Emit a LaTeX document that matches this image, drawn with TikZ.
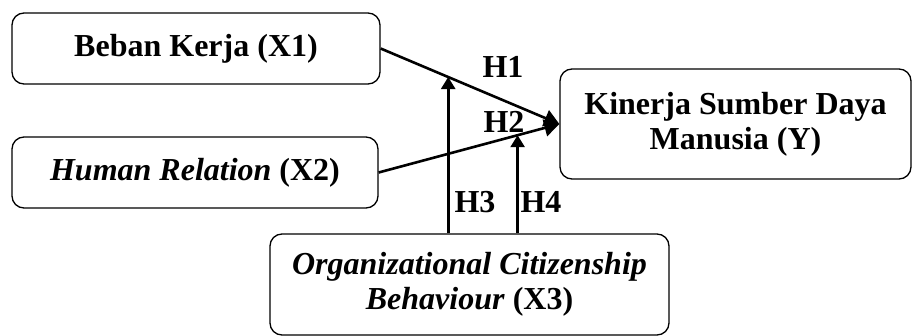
\documentclass[tikz,border=0pt]{standalone}
\usepackage{fontspec}
\setmainfont{Liberation Serif}
\usepackage{tikz}
\usetikzlibrary{arrows.meta, calc}

\begin{document}
\begin{tikzpicture}[x=1pt, y=-1pt,
    var/.style={draw, rounded corners=12pt, line width=1.3pt, align=center, inner sep=0pt,
        font=\fontsize{32}{35}\selectfont\bfseries},
    link/.style={line width=2.6pt, -{Triangle[length=15pt,width=17pt]}},
    moder/.style={line width=2.6pt, -{Triangle[length=12pt,width=14pt]}},
    hyp/.style={inner sep=0pt, font=\fontsize{32}{35}\selectfont\bfseries}]
    \useasboundingbox (0,0) rectangle (913,336);

    % Independent variables
    \node[var, minimum width=368pt, minimum height=71pt] (x1) at (196,48.5) {Beban Kerja (X1)};
    \node[var, minimum width=366pt, minimum height=71pt] (x2) at (195,172.5) {\textit{Human Relation} (X2)};

    % Dependent variable
    \node[var, minimum width=351pt, minimum height=110pt] (y) at (735.5,124) {Kinerja Sumber Daya\\Manusia (Y)};

    % Moderator
    \node[var, minimum width=399pt, minimum height=101pt] (x3) at (469.5,284.5)
        {\textit{Organizational Citizenship}\\\textit{Behaviour} (X3)};

    % Direct effects
    \draw[link] (x1.east) -- (y.west);
    \draw[link] (x2.east) -- (y.west);

    % Moderating effects
    \coordinate (m1) at ($(x1.east)!0.378!(y.west)$);
    \coordinate (m2) at ($(x2.east)!0.769!(y.west)$);
    \draw[moder] (m1 |- x3.north) -- (m1);
    \draw[moder] (m2 |- x3.north) -- (m2);

    % Hypotheses
    \node[hyp] (h1) at (503,67) {H1};
    \node[hyp] (h2) at (504,122) {H2};
    \node[hyp] (h3) at (475,202) {H3};
    \node[hyp] (h4) at (541,202) {H4};
\end{tikzpicture}
\end{document}
